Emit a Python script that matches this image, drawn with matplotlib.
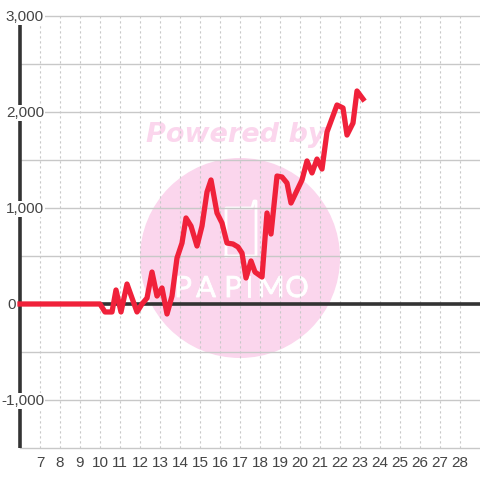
import matplotlib
matplotlib.use('Agg')
import matplotlib.pyplot as plt
import matplotlib.patches as patches
import matplotlib.patheffects as pe
import matplotlib.transforms as mtrans
import matplotlib.ticker as ticker

plt.rcParams['font.family'] = ['Liberation Sans', 'DejaVu Sans']

hours = [6, 10, 10.25, 10.6, 10.8, 11.05, 11.35, 11.85, 12.1, 12.35, 12.6, 12.85,
         13.1, 13.35, 13.6, 13.85, 14.1, 14.3, 14.55, 14.85, 15.1, 15.35, 15.55,
         15.85, 16.1, 16.35, 16.65, 16.9, 17.1, 17.3, 17.55, 17.75, 18.1, 18.35,
         18.55, 18.85, 19.1, 19.35, 19.55, 20.1, 20.35, 20.6, 20.85, 21.1, 21.35,
         21.85, 22.15, 22.35, 22.65, 22.85, 23.15]
pips = [0, 0, -83, -83, 146, -83, 208, -83, 0, 62, 333, 83,
        167, -104, 83, 479, 635, 896, 812, 604, 812, 1167, 1292,
        948, 844, 635, 625, 594, 531, 271, 448, 333, 281, 948,
        729, 1333, 1323, 1260, 1052, 1292, 1490, 1365, 1510, 1406, 1792,
        2073, 2042, 1760, 1885, 2219, 2135]

hour_ticks = list(range(7, 29))
pip_ticks = [3000, 2000, 1000, 0, -1000]
pip_labels = ['3,000', '2,000', '1,000', '0', '-1,000']
grid_levels = [-1500, -1000, -500, 0, 500, 1000, 1500, 2000, 2500, 3000]

TEXT = '#444444'
DARK = '#333333'
GRID = '#c8c8c8'
RED = '#f0213a'
PINK = '#fbd6ed'

fig = plt.figure(figsize=(4.8, 4.8), dpi=100)
ax = fig.add_axes([20 / 480, 32 / 480, 460 / 480, 432 / 480])
ax.set_xlim(6, 29)
ax.set_ylim(-1500, 3000)
for spine in ax.spines.values():
    spine.set_visible(False)

# watermark is placed in image pixels, y going down
px = mtrans.Affine2D().scale(1, -1).translate(0, 480)
ax.add_patch(patches.Circle((240, 258), 100, facecolor=PINK, edgecolor='none',
                            transform=px, clip_on=False, zorder=0.1))
ax.text(236, 135, 'Powered by', transform=px, ha='center', va='center', color=PINK,
        fontsize=19.5, fontweight='bold', fontstyle='italic', family='DejaVu Sans', zorder=0.1)
ax.plot([226, 226, 252, 254, 256, 256, 226], [256, 208, 208, 201, 201, 256, 256],
        transform=px, color='white', lw=2, solid_joinstyle='round', zorder=0.2)
for letter, lx in zip('PAPIMO', [183, 206, 233, 249, 271, 297]):
    ax.text(lx, 289, letter, transform=px, ha='center', va='center', color='white',
            fontsize=21, family='Lato', zorder=0.2,
            path_effects=[pe.withStroke(linewidth=0.6, foreground='white')])

ax.set_axisbelow(True)
ax.set_xticks(hour_ticks)
ax.set_yticks(grid_levels)
ax.set_yticklabels([])
ax.tick_params(length=0)
ax.tick_params(axis='x', labelsize=11, labelcolor=TEXT, pad=6)
ax.xaxis.set_major_formatter(ticker.FormatStrFormatter('%d'))
ax.grid(axis='y', color=GRID, lw=1)
ax.grid(axis='x', color=GRID, lw=0.8, ls=(0, (2, 2.5)))
for line in ax.get_xgridlines() + ax.get_ygridlines():
    line.set_clip_on(False)

# axis lines
ax.plot([6, 6], [-1500, 2916], color=DARK, lw=2.6, solid_capstyle='butt', clip_on=False, zorder=0.6)
ax.axhline(0, color=DARK, lw=2.6, zorder=1)

trans = ax.get_yaxis_transform()
for val, label in zip(pip_ticks, pip_labels):
    right = 16 if val == 0 else 44
    bbox = None if val == 0 else dict(facecolor='white', edgecolor='none', pad=1)
    ax.annotate(label, xy=(0, val), xycoords=trans,
                xytext=((right - 20) * 0.72, -0.7), textcoords='offset points',
                ha='right', va='center', color=TEXT, fontsize=11,
                bbox=bbox, annotation_clip=False, zorder=0.8)

ax.plot(hours, pips, color=RED, lw=3.8, solid_joinstyle='round', clip_on=False, zorder=2)

fig.savefig('out.png', dpi=100)
